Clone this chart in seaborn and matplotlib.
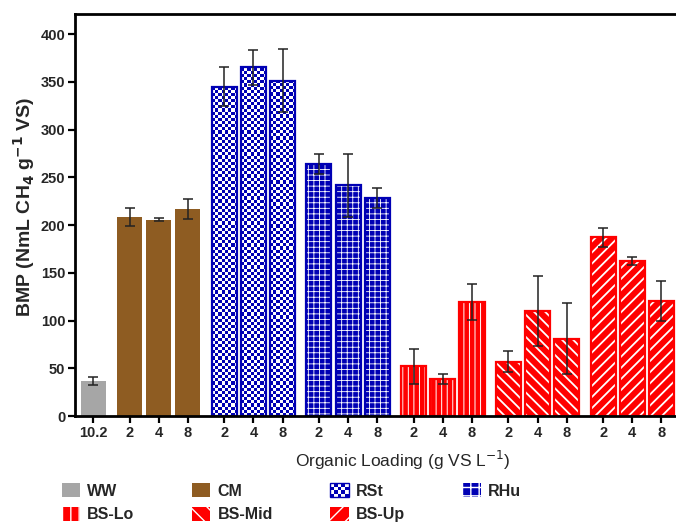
import numpy as np
import pandas as pd
import seaborn as sns
import matplotlib
matplotlib.use("Agg")
from matplotlib import pyplot as plt
from matplotlib.patches import Patch, Rectangle
from matplotlib.colors import ListedColormap
from matplotlib.legend_handler import HandlerBase

# data
groups = ["WW", "CM", "RSt", "RHu", "BS-Lo", "BS-Mid", "BS-Up"]
loadings = [["10.2"], ["2", "4", "8"], ["2", "4", "8"], ["2", "4", "8"],
            ["2", "4", "8"], ["2", "4", "8"], ["2", "4", "8"]]
bmp = [[36.5], [208.5, 205.5, 216.5], [345, 365, 351], [263.5, 241.5, 228],
       [52, 39, 119.5], [57, 110, 81], [187, 162, 120.5]]
sd = [[4], [9.5, 1.5, 10.5], [20, 18, 33], [10.5, 33, 10.5],
      [18, 5, 19], [11, 36.5, 37], [10, 4, 21]]

colors = {"WW": "#a6a6a6", "CM": "#8e5c22", "RSt": "#0000b4", "RHu": "#0000b4",
          "BS-Lo": "#ff0000", "BS-Mid": "#ff0000", "BS-Up": "#ff0000"}
hatches = {"WW": None, "CM": None, "RSt": "checker", "RHu": "+++",
           "BS-Lo": "|||", "BS-Mid": "\\\\\\", "BS-Up": "///"}
hatch_lw = {"+++": 0.6, "|||": 0.7, "\\\\\\": 1.3, "///": 1.3}

gap = 0.25
rows = []
i = 0
for g, name in enumerate(groups):
    for lab, v, e in zip(loadings[g], bmp[g], sd[g]):
        rows.append({"group": name, "label": lab, "bmp": v, "sd": e, "pos": i + gap * g})
        i += 1
df = pd.DataFrame(rows)

sns.set_style("ticks")
plt.rcParams['font.family'] = ['Liberation Sans', 'DejaVu Sans']
plt.rcParams['hatch.linewidth'] = 1.0

fig = plt.figure(figsize=(6.76, 5.24), dpi=100)
ax = fig.add_axes([75 / 676, 108 / 524, 601 / 676, 402 / 524])

sns.barplot(data=df, x="pos", y="bmp", hue="group", hue_order=groups,
            palette=colors, native_scale=True, dodge=False, width=0.86,
            errorbar=None, legend=False, ax=ax, saturation=1)

ax.set_xlim(-0.62, 20.0)
ax.set_ylim(0, 421)

px_per_unit_y = 402 / 421
for g, name in enumerate(groups):
    cont = ax.containers[g]
    c = colors[name]
    h = hatches[name]
    for bar in cont:
        x0, w, hgt = bar.get_x(), bar.get_width(), bar.get_height()
        bar.set_facecolor(c)
        if h is None:
            bar.set_edgecolor("none")
            continue
        if h == "checker":
            bar.set_edgecolor("none")
            nx = 8
            cy = (w / nx) * (601 / 20.62) / px_per_unit_y
            ny = int(np.ceil(hgt / cy))
            board = (np.add.outer(np.arange(ny), np.arange(nx)) % 2).astype(float)
            im = ax.imshow(board, extent=(x0, x0 + w, 0, ny * cy), origin="lower",
                           cmap=ListedColormap([c, "white"]), interpolation="nearest",
                           aspect="auto", zorder=bar.get_zorder() + 0.1)
            im.set_clip_path(bar)
        else:
            bar.set_edgecolor("white")
            bar.set_linewidth(0)
            bar.set_hatch(h)
            if hasattr(bar, "set_hatch_linewidth"):
                bar.set_hatch_linewidth(hatch_lw[h])
        ax.add_patch(Rectangle((x0, 0), w, hgt, fill=False, edgecolor=c, lw=1.6,
                               zorder=bar.get_zorder() + 0.2))

ax.set_xlim(-0.62, 20.0)
ax.set_ylim(0, 421)

ax.errorbar(df["pos"], df["bmp"], yerr=df["sd"], fmt="none", ecolor="#222222",
            elinewidth=1.1, capsize=3.5, capthick=1.1, zorder=5)

ax.set_xticks(df["pos"])
ax.set_xticklabels(df["label"], fontsize=10.5, fontweight="bold")
ax.set_yticks(np.arange(0, 401, 50))
ax.set_yticklabels([str(v) for v in range(0, 401, 50)], fontsize=10.5, fontweight="bold")
ax.tick_params(axis="both", direction="out", length=5, width=1.6, color="black", pad=2)
ax.set_xlabel("")

for s in ["left", "bottom", "top"]:
    ax.spines[s].set_linewidth(2)
    ax.spines[s].set_color("black")
ax.spines["right"].set_visible(False)

ax.set_ylabel("BMP (NmL CH$_\\mathbf{4}$ g$^\\mathbf{-1}$ VS)", fontsize=14,
              fontweight="bold")
ax.yaxis.set_label_coords(-0.063, 0.52)
fig.text(403 / 676, 1 - 460 / 524, "Organic Loading (g VS L$^{-1}$)", fontsize=12.5,
         ha="center", va="center")


class CheckerHandler(HandlerBase):
    def create_artists(self, legend, orig_handle, xdescent, ydescent, width, height,
                       fontsize, trans):
        arts = [Rectangle((-xdescent, -ydescent), width, height, facecolor="white",
                          edgecolor="none", transform=trans)]
        nx, ny = 5, 4
        cw, ch = width / nx, height / ny
        for a in range(nx):
            for b in range(ny):
                if (a + b) % 2 == 0:
                    arts.append(Rectangle((-xdescent + a * cw, -ydescent + b * ch), cw, ch,
                                          facecolor=colors["RSt"], edgecolor="none",
                                          transform=trans))
        arts.append(Rectangle((-xdescent, -ydescent), width, height, fill=False,
                              edgecolor=colors["RSt"], lw=1.0, transform=trans))
        return arts


handle_of = {}
handler_map = {}
for name in groups:
    h = hatches[name]
    if h is None:
        p = Patch(facecolor=colors[name], edgecolor="none", label=name)
    elif h == "checker":
        p = Patch(facecolor=colors[name], label=name)
        handler_map[p] = CheckerHandler()
    else:
        p = Patch(facecolor=colors[name], edgecolor="white", hatch=h[:2], lw=0, label=name)
    handle_of[name] = p

# legend fills column by column, so order gives rows WW CM RSt RHu / BS-Lo BS-Mid BS-Up
leg_order = ["WW", "BS-Lo", "CM", "BS-Mid", "RSt", "BS-Up", "RHu"]
handles = [handle_of[n] for n in leg_order]

leg = fig.legend(handles=handles, loc="lower left", ncol=4, frameon=False,
                 bbox_to_anchor=(60 / 676, 0.0),
                 prop={"weight": "bold", "size": 11.5}, handlelength=1.15, handleheight=1.0,
                 handletextpad=0.45, labelspacing=0.5, columnspacing=3.6,
                 borderpad=0.1, borderaxespad=0.0,
                 handler_map=handler_map)

fig.savefig("out.png", dpi=100)
